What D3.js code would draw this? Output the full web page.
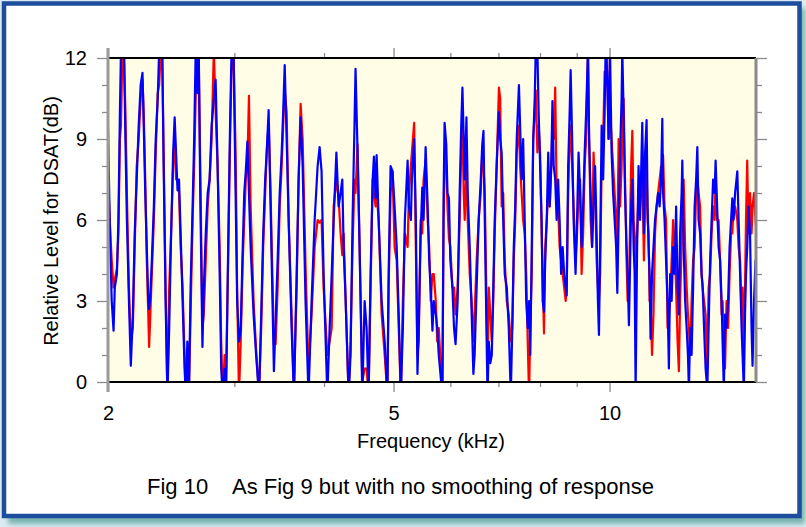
<!DOCTYPE html>
<html><head><meta charset="utf-8">
<script src="https://cdn.jsdelivr.net/npm/d3@7"></script>
<style>body{margin:0;background:#fff}svg{display:block}text{font-family:"Liberation Sans",Arial,Helvetica,sans-serif;fill:#000}</style>
</head><body><svg id="c" width="806" height="527"></svg>
<script>
const freqKHz = [
2.000,2.011,2.024,2.036,2.044,2.058,2.068,2.078,2.085,2.095,
2.105,2.115,2.125,2.139,2.152,2.166,2.179,2.193,2.207,2.221,
2.234,2.243,2.254,2.265,2.276,2.282,2.291,2.302,2.317,2.331,
2.346,2.357,2.369,2.380,2.391,2.406,2.420,2.434,2.449,2.465,
2.477,2.488,2.500,2.512,2.525,2.541,2.557,2.568,2.580,2.593,
2.607,2.624,2.637,2.650,2.663,2.676,2.689,2.708,2.720,2.737,
2.754,2.771,2.789,2.809,2.825,2.843,2.862,2.876,2.890,2.908,
2.922,2.941,2.959,2.973,2.992,3.012,3.027,3.045,3.062,3.082,
3.097,3.112,3.128,3.144,3.161,3.191,3.217,3.247,3.270,3.291,
3.312,3.328,3.349,3.370,3.406,3.425,3.447,3.470,3.492,3.509,
3.526,3.548,3.571,3.605,3.632,3.664,3.687,3.711,3.735,3.770,
3.806,3.844,3.882,3.919,3.944,3.969,3.995,4.043,4.073,4.100,
4.126,4.162,4.192,4.219,4.242,4.260,4.288,4.329,4.356,4.384,
4.411,4.426,4.455,4.484,4.523,4.557,4.586,4.615,4.645,4.676,
4.695,4.721,4.736,4.767,4.813,4.860,4.902,4.922,4.953,4.984,
5.017,5.051,5.084,5.118,5.152,5.185,5.231,5.253,5.286,5.303,
5.342,5.371,5.399,5.421,5.455,5.483,5.506,5.542,5.579,5.606,
5.634,5.665,5.689,5.726,5.753,5.781,5.848,5.872,5.890,5.922,
5.945,5.973,6.000,6.040,6.071,6.101,6.142,6.182,6.213,6.237,
6.263,6.283,6.318,6.344,6.385,6.425,6.460,6.486,6.528,6.571,
6.615,6.647,6.673,6.701,6.760,6.788,6.821,6.853,6.886,6.918,
6.961,7.012,7.040,7.074,7.109,7.144,7.191,7.237,7.284,7.319,
7.354,7.389,7.424,7.477,7.505,7.542,7.579,7.617,7.654,7.691,
7.724,7.754,7.791,7.828,7.866,7.891,7.933,7.965,8.003,8.042,
8.069,8.103,8.135,8.175,8.214,8.254,8.294,8.326,8.360,8.400,
8.439,8.479,8.520,8.561,8.603,8.645,8.687,8.715,8.757,8.799,
8.827,8.869,8.911,8.967,9.010,9.054,9.099,9.143,9.188,9.233,
9.277,9.331,9.366,9.411,9.455,9.500,9.547,9.594,9.634,9.666,
9.703,9.750,9.797,9.844,9.875,9.922,9.969,10.016,10.066,10.115,
10.165,10.214,10.253,10.296,10.345,10.395,10.418,10.461,10.510,10.562,
10.597,10.642,10.683,10.718,10.759,10.804,10.839,10.873,10.925,10.976,
11.029,11.083,11.108,11.166,11.209,11.263,11.299,11.335,11.371,11.407,
11.461,11.515,11.572,11.629,11.686,11.743,11.799,11.845,11.875,11.932,
11.989,12.047,12.098,12.146,12.205,12.264,12.323,12.382,12.441,12.492,
12.541,12.603,12.631,12.685,12.746,12.808,12.861,12.902,12.951,13.013,
13.076,13.140,13.203,13.254,13.309,13.373,13.436,13.479,13.544,13.611,
13.686,13.743,13.810,13.876,13.943,14.009,14.055,14.123,14.191,14.259,
14.328,14.373,14.432,14.486,14.558,14.629,14.700,14.771,14.829,14.890,
14.962,15.068,15.131,15.204,15.277,15.325,15.388,15.446,15.495,15.555,
15.621,15.697,15.773,15.823,15.899,15.975,16.000];

const blueLevel = [
9.4,6.0,3.0,1.9,3.5,4.0,6.0,10.0,12.3,12.3,
12.3,9.0,6.0,3.0,0.6,2.5,5.5,7.5,9.5,11.0,
11.45,9.5,7.0,5.0,3.0,2.7,3.2,4.5,6.5,9.0,
10.5,12.3,12.3,12.3,8.0,3.0,-0.5,2.0,5.5,8.5,
9.8,8.5,7.1,7.5,5.5,3.0,0.5,-0.5,1.5,-0.5,
3.5,6.5,9.0,12.3,10.7,12.3,7.0,1.3,3.5,5.5,
7.0,7.5,9.5,10.5,11.2,8.0,4.0,0.5,-0.5,0.5,
-0.5,5.0,9.5,12.3,12.3,7.0,3.0,1.5,2.0,5.0,
7.0,7.8,8.9,7.0,5.0,2.5,1.0,-0.5,2.5,5.5,
7.5,8.5,10.07,6.5,0.4,2.3,4.5,7.0,8.5,10.0,
11.74,9.0,6.0,2.0,-0.5,4.0,7.5,9.8,8.0,3.0,
-0.5,3.0,6.0,8.0,8.7,7.8,4.0,-0.5,2.0,4.0,
6.0,8.5,6.5,7.0,7.5,5.0,3.0,-0.5,1.0,6.0,
9.5,11.6,8.5,5.0,-0.5,3.0,2.0,-0.5,4.0,7.5,
8.35,6.8,8.4,6.0,3.0,1.5,-0.5,4.0,8.0,7.8,
6.5,5.0,2.5,-0.5,2.0,6.0,8.2,6.5,6.0,7.5,
9.0,6.0,0.3,2.0,5.5,7.2,6.0,8.7,6.5,4.5,
3.5,1.9,3.0,2.5,2.0,1.0,-0.5,7.0,9.6,8.8,
7.0,6.8,4.5,3.5,2.0,1.4,3.0,7.0,9.5,10.9,
9.0,7.5,9.8,7.0,5.0,2.5,0.3,1.0,3.5,6.0,
7.5,8.8,9.3,6.0,-0.5,1.5,0.7,1.0,3.5,6.0,
8.0,10.0,9.0,8.5,6.0,4.0,3.5,2.0,-0.5,2.0,
5.0,6.5,9.0,11.0,9.5,7.5,9.0,6.0,3.0,2.0,
3.0,1.0,5.0,9.0,10.5,12.3,12.3,10.0,8.0,6.0,
3.0,2.6,4.5,6.0,8.5,6.5,8.0,10.4,8.0,7.5,
6.0,7.5,6.0,4.0,5.0,4.0,3.5,3.2,8.0,10.0,
11.55,9.0,6.0,4.0,6.0,8.5,7.0,5.0,6.5,8.5,
10.0,12.3,9.0,7.0,5.0,6.5,8.0,5.5,3.0,1.74,
5.0,9.5,7.5,10.0,12.3,11.5,9.0,12.3,8.5,7.0,
6.0,5.0,3.3,6.0,8.5,10.5,12.3,10.0,7.0,5.0,
4.0,2.1,4.5,6.5,7.5,5.0,4.0,-0.3,5.0,8.0,
6.0,8.5,9.6,5.5,8.5,9.7,6.5,5.0,4.0,1.6,
4.0,5.0,6.0,6.5,7.0,6.5,7.5,9.75,7.0,6.0,
4.5,3.0,0.5,4.0,3.0,5.0,4.0,6.5,3.5,2.5,
5.5,7.0,8.2,5.0,3.0,2.0,1.0,-0.3,2.0,1.0,
3.5,6.5,7.5,8.7,6.0,5.5,4.0,3.6,2.0,0.5,
-0.3,2.0,4.5,6.0,7.5,7.0,8.2,6.5,5.0,4.5,
3.0,1.5,-0.3,2.5,2.0,3.0,5.0,6.0,6.8,6.0,
7.0,7.8,6.0,4.0,2.0,1.0,-0.3,2.5,4.0,5.0,
6.5,5.5,2.0,0.6,3.0,4.5,3.5];

const redLevel = [
7.7,6.0,4.5,3.5,3.8,4.2,5.5,9.0,9.5,12.3,
12.3,10.0,7.0,3.5,1.5,2.0,5.0,8.0,9.0,10.5,
11.2,10.0,7.5,4.5,2.5,1.3,2.5,4.0,6.0,8.5,
10.7,11.0,12.3,12.3,8.5,3.5,-0.5,3.5,5.5,8.0,
9.2,7.5,7.5,7.0,5.0,3.5,1.0,-0.5,1.0,-0.3,
2.5,6.0,8.0,10.5,12.3,12.0,8.0,2.0,2.5,4.5,
6.5,7.5,9.0,12.3,10.0,8.0,5.0,1.5,-0.5,1.0,
0.5,4.5,9.0,11.5,12.3,8.5,3.5,-0.5,1.5,4.5,
6.0,7.5,8.0,10.6,6.5,3.0,1.2,-0.5,2.0,5.0,
7.0,8.5,9.6,7.0,1.4,1.4,3.5,6.5,8.0,9.5,
10.8,10.0,6.0,2.5,-0.5,3.5,7.5,10.3,9.0,4.3,
0.5,2.5,5.0,6.0,5.9,6.0,3.5,1.0,1.5,2.0,
6.5,7.5,6.8,5.5,4.7,5.5,3.0,-0.5,1.5,5.0,
7.5,7.0,8.8,5.0,0.0,0.5,0.5,-0.5,3.5,7.5,
7.0,6.5,7.0,6.0,2.5,1.0,-0.5,3.5,7.0,7.8,
5.0,4.5,2.0,-0.5,3.0,5.5,5.0,7.0,8.0,8.5,
9.6,5.0,1.0,1.5,6.0,5.5,7.5,8.2,6.0,5.0,
3.0,4.0,4.0,3.0,1.5,2.0,-0.5,6.0,8.5,8.0,
6.5,5.3,5.0,3.5,3.5,2.5,3.5,6.0,8.5,9.6,
7.0,6.0,8.0,6.0,4.0,3.0,1.5,2.5,4.5,6.0,
7.0,8.5,8.0,7.0,0.5,3.5,2.5,1.5,3.0,5.5,
8.0,10.9,10.5,6.5,7.0,4.5,3.0,2.5,1.5,2.0,
4.5,6.0,8.5,9.5,8.0,7.0,6.0,5.5,4.0,1.5,
-0.5,2.0,4.0,9.0,10.0,10.8,8.5,9.5,8.5,5.5,
4.0,1.8,5.0,6.0,7.0,6.5,8.0,9.5,9.0,10.9,
7.0,6.5,5.0,4.5,4.0,3.5,3.0,3.5,7.0,9.0,
9.5,8.0,6.5,4.5,5.5,7.0,7.5,4.0,5.5,8.0,
9.0,12.3,9.0,6.0,5.0,8.5,7.0,4.5,3.5,3.0,
4.0,8.0,9.0,11.5,11.0,12.0,9.0,10.0,9.0,8.0,
7.0,6.0,5.0,9.0,6.5,8.0,9.0,10.5,7.5,4.5,
3.0,3.5,6.0,8.0,9.3,6.0,5.5,4.0,5.5,7.0,
6.5,7.5,8.0,4.5,6.5,8.0,6.0,5.5,3.0,3.0,
1.0,2.5,5.5,6.5,7.0,7.5,8.0,8.0,8.4,6.5,
6.0,2.0,2.5,3.0,4.5,6.0,5.0,3.5,1.5,0.4,
3.0,5.0,6.5,7.5,5.0,3.5,2.5,2.0,1.0,3.0,
4.5,5.0,7.0,7.5,7.0,6.5,4.0,3.5,3.0,2.5,
0.5,3.5,4.0,5.5,6.5,6.0,7.5,6.0,6.0,4.5,
2.5,3.0,1.5,0.5,3.0,2.0,4.0,5.5,5.5,6.5,
6.5,6.0,5.0,4.5,2.5,3.5,1.0,3.5,6.0,8.2,
5.5,7.0,5.5,6.5,7.0,6.0,5.8];

const xMajorTicks = [2, 5, 10];
const xMinorTicks = [3, 4, 6, 7, 8, 9];
const yMajorTicks = [0, 3, 6, 9, 12];
const yMinorTicks = [1, 2, 4, 5, 7, 8, 10, 11];
const xTitle = "Frequency (kHz)";
const yTitle = "Relative Level for DSAT(dB)";
const captionFig = "Fig 10";
const captionText = "As Fig 9 but with no smoothing of response";

const svg = d3.select("#c");
const L = 108, T = 58, R = 756, B = 382;
const x = d3.scaleLog().domain([2, 16]).range([L, R]);
const y = d3.scaleLinear().domain([0, 12]).range([B, T]);

// frame
const defs = svg.append("defs");
const f = defs.append("filter").attr("id", "sh").attr("x", "-5%").attr("y", "-5%").attr("width", "115%").attr("height", "115%");
f.append("feGaussianBlur").attr("stdDeviation", 2.5);
defs.append("clipPath").attr("id", "clip").append("rect")
  .attr("x", L).attr("y", T).attr("width", R - L).attr("height", B - T);

svg.append("rect").attr("width", 806).attr("height", 527).attr("fill", "#dcebf3");
svg.append("rect").attr("x", 8).attr("y", 8).attr("width", 797).attr("height", 516)
  .attr("fill", "#78b3b0").attr("filter", "url(#sh)");
svg.append("rect").attr("x", 4).attr("y", 3.5).attr("width", 795.5).attr("height", 512.5)
  .attr("fill", "#fff").attr("stroke", "#1c4e9d").attr("stroke-width", 4.5);

// plot area
svg.append("rect").attr("x", L).attr("y", T).attr("width", R - L).attr("height", B - T).attr("fill", "#fffde6");

const line = d3.line().x((d, i) => x(freqKHz[i])).y(d => y(d));
const g = svg.append("g").attr("clip-path", "url(#clip)");
g.append("path").datum(redLevel).attr("d", line).attr("fill", "none")
  .attr("stroke", "#ff0000").attr("stroke-width", 2.2).attr("stroke-linejoin", "round");
g.append("path").datum(blueLevel).attr("d", line).attr("fill", "none")
  .attr("stroke", "#0000ff").attr("stroke-width", 2.2).attr("stroke-linejoin", "round");

// axes
const tickGray = "#8a8a8a";
function styleAxis(sel) {
  sel.select(".domain").remove();
  sel.selectAll(".tick line").attr("stroke", tickGray).attr("stroke-width", 1.3);
  sel.selectAll("text").attr("font-size", 20).attr("fill", "#000");
}
const fmt = d => String(d);
svg.append("g").attr("transform", `translate(0,${B})`)
  .call(d3.axisBottom(x).tickValues(xMajorTicks).tickFormat(fmt).tickSize(10).tickPadding(14)).call(styleAxis);
svg.append("g").attr("transform", `translate(0,${B})`)
  .call(d3.axisBottom(x).tickValues(xMinorTicks).tickFormat("").tickSize(5)).call(styleAxis);
svg.append("g").attr("transform", `translate(0,${T})`)
  .call(d3.axisTop(x).tickValues(xMajorTicks).tickFormat("").tickSize(10)).call(styleAxis);
svg.append("g").attr("transform", `translate(0,${T})`)
  .call(d3.axisTop(x).tickValues(xMinorTicks).tickFormat("").tickSize(5)).call(styleAxis);
svg.append("g").attr("transform", `translate(${L},0)`)
  .call(d3.axisLeft(y).tickValues(yMajorTicks).tickFormat(fmt).tickSize(11).tickPadding(10)).call(styleAxis);
svg.append("g").attr("transform", `translate(${L},0)`)
  .call(d3.axisLeft(y).tickValues(yMinorTicks).tickFormat("").tickSize(6)).call(styleAxis);
svg.append("g").attr("transform", `translate(${R},0)`)
  .call(d3.axisRight(y).tickValues(yMajorTicks).tickFormat("").tickSize(11)).call(styleAxis);
svg.append("g").attr("transform", `translate(${R},0)`)
  .call(d3.axisRight(y).tickValues(yMinorTicks).tickFormat("").tickSize(6)).call(styleAxis);

// frame lines of plot
svg.append("line").attr("x1", L).attr("x2", R).attr("y1", T).attr("y2", T).attr("stroke", "#000").attr("stroke-width", 2);
svg.append("line").attr("x1", L).attr("x2", R).attr("y1", B).attr("y2", B).attr("stroke", "#000").attr("stroke-width", 2);
svg.append("line").attr("x1", L).attr("x2", L).attr("y1", T - 10).attr("y2", B + 10).attr("stroke", "#9a9a9a").attr("stroke-width", 3);
svg.append("line").attr("x1", R).attr("x2", R).attr("y1", T).attr("y2", B).attr("stroke", "#8a8a8a").attr("stroke-width", 3);

// titles
svg.append("text").attr("x", 431).attr("y", 448).attr("text-anchor", "middle").attr("font-size", 20).text(xTitle);
svg.append("text").attr("transform", "translate(58,221) rotate(-90)").attr("text-anchor", "middle").attr("font-size", 20).text(yTitle);
svg.append("text").attr("x", 147).attr("y", 494).attr("font-size", 22).text(captionFig);
svg.append("text").attr("x", 232).attr("y", 494).attr("font-size", 22).text(captionText);
</script></body></html>
